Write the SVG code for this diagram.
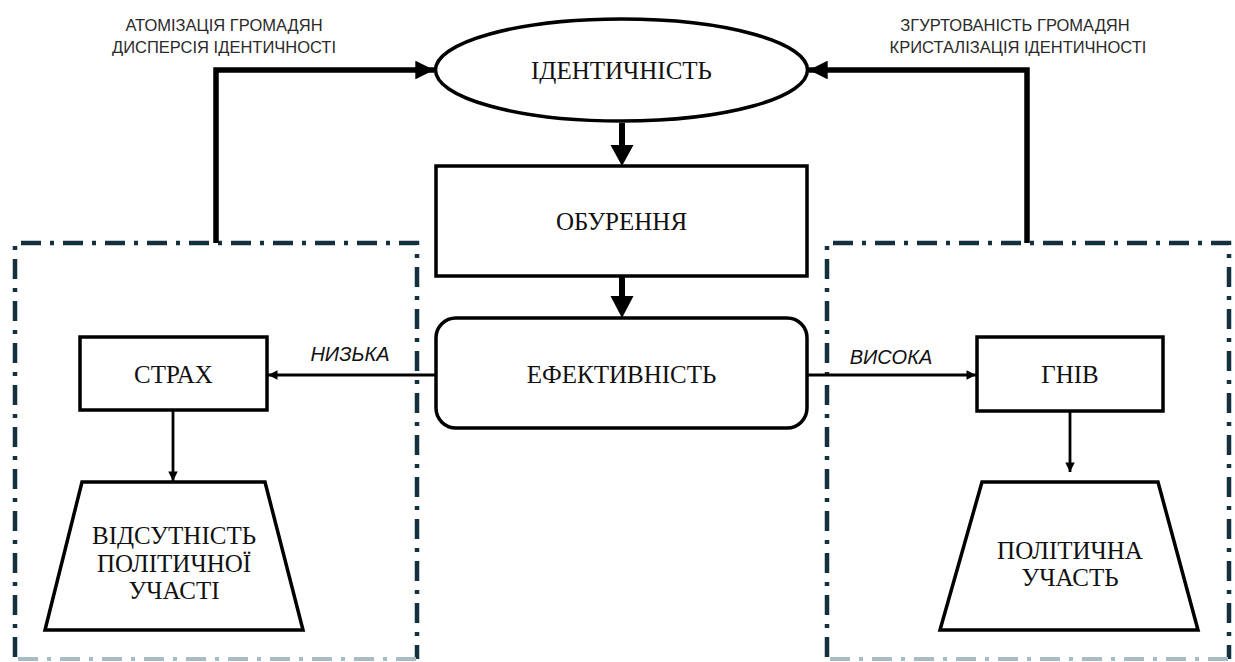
<svg xmlns="http://www.w3.org/2000/svg" width="1235" height="662" viewBox="0 0 1235 662">
<style>
.node{fill:#fff;stroke:#000;stroke-width:3.5}
.serif{font-family:"Liberation Serif","Times New Roman",serif;fill:#111;text-anchor:middle;font-size:25px}
.lbl{font-family:"Liberation Sans",Arial,sans-serif;fill:#2a2a2a;text-anchor:middle;font-size:16.5px}
.ital{font-family:"Liberation Sans",Arial,sans-serif;font-style:italic;fill:#111;font-size:20px;text-anchor:middle}
.frame{fill:none;stroke:#12303d;stroke-width:4.5;stroke-dasharray:20 9 4 9}
.framebot{fill:none;stroke:#a9bcc6;stroke-width:4;stroke-dasharray:20 9 4 9}
.thick{fill:none;stroke:#000;stroke-width:5.5}
.thin{fill:none;stroke:#000;stroke-width:2.8}
</style>
<defs>
<marker id="bigHead" viewBox="0 0 10 10" refX="10" refY="5" markerWidth="3.6" markerHeight="3.4" orient="auto" markerUnits="strokeWidth">
<path d="M0,0 L10,5 L0,10 z" fill="#000"/>
</marker>
<marker id="smallHead" viewBox="0 0 10 10" refX="10" refY="5" markerWidth="4" markerHeight="3.4" orient="auto" markerUnits="strokeWidth">
<path d="M0,0 L10,5 L0,10 z" fill="#000"/>
</marker>
</defs>
<rect width="1235" height="662" fill="#fff"/>

<g id="frames">
<path class="frame" d="M15,657 L15,243 L417,243 L417,659"/>
<path class="framebot" d="M18,659 L417,659"/>
<path class="frame" d="M827,657 L827,243 L1229,243 L1229,659"/>
<path class="framebot" d="M830,659 L1229,659"/>
</g>

<g id="connectors">
<path class="thick" d="M216,243 L216,70 L434,70" marker-end="url(#bigHead)"/>
<path class="thick" d="M1027,243 L1027,70 L809,70" marker-end="url(#bigHead)"/>
<path d="M619,123 L619,145 L625,145 L625,123 z" fill="#000"/>
<path d="M610.5,145 L633.5,145 L622,166 z" fill="#000"/>
<path d="M619,276 L619,297 L625,297 L625,276 z" fill="#000"/>
<path d="M610.5,296 L633.5,296 L622,318 z" fill="#000"/>
<path class="thin" d="M436,375 L268,375" marker-end="url(#smallHead)"/>
<path class="thin" d="M807,375 L976,375" marker-end="url(#smallHead)"/>
<path class="thin" d="M173,411 L173,481" marker-end="url(#smallHead)"/>
<path class="thin" d="M1070,412 L1070,472" marker-end="url(#smallHead)"/>
<text class="ital" x="350" y="361">НИЗЬКА</text>
<text class="ital" x="891" y="364">ВИСОКА</text>
<text class="lbl" x="224" y="31">АТОМІЗАЦІЯ ГРОМАДЯН</text>
<text class="lbl" x="224" y="53">ДИСПЕРСІЯ ІДЕНТИЧНОСТІ</text>
<text class="lbl" x="1015" y="31">ЗГУРТОВАНІСТЬ ГРОМАДЯН</text>
<text class="lbl" x="1018" y="53">КРИСТАЛІЗАЦІЯ ІДЕНТИЧНОСТІ</text>
</g>

<g id="identity">
<ellipse class="node" cx="621.5" cy="70" rx="186" ry="51"/>
<text class="serif" x="621.5" y="79">ІДЕНТИЧНІСТЬ</text>
</g>

<g id="outrage">
<rect class="node" x="436" y="166" width="371" height="110"/>
<text class="serif" x="621.5" y="230">ОБУРЕННЯ</text>
</g>

<g id="efficiency">
<rect class="node" x="436" y="318" width="371" height="110" rx="20" ry="20"/>
<text class="serif" x="621.5" y="383">ЕФЕКТИВНІСТЬ</text>
</g>

<g id="fear">
<rect class="node" x="80" y="337" width="187" height="73"/>
<text class="serif" x="173.5" y="383">СТРАХ</text>
</g>

<g id="anger">
<rect class="node" x="977" y="337" width="186" height="74"/>
<text class="serif" x="1070" y="383">ГНІВ</text>
</g>

<g id="no-participation">
<polygon class="node" points="82,482 265,482 303,630 45,630"/>
<text class="serif" x="174" y="544">ВІДСУТНІСТЬ</text>
<text class="serif" x="174" y="572">ПОЛІТИЧНОЇ</text>
<text class="serif" x="174" y="599">УЧАСТІ</text>
</g>

<g id="participation">
<polygon class="node" points="982,482 1158,482 1198,630 940,630"/>
<text class="serif" x="1070" y="559">ПОЛІТИЧНА</text>
<text class="serif" x="1070" y="586">УЧАСТЬ</text>
</g>
</svg>
